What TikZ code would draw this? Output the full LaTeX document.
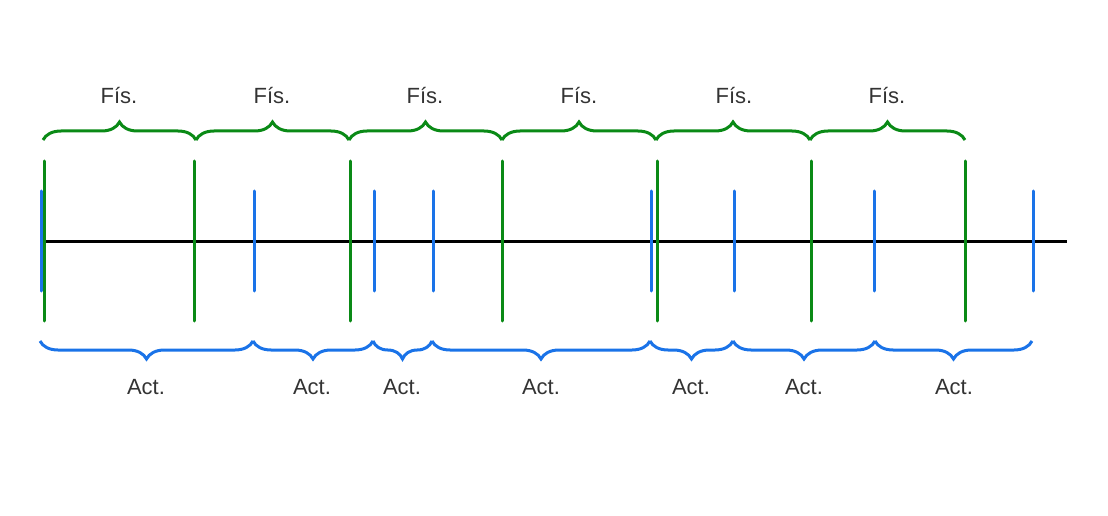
\documentclass[tikz,border=0pt]{standalone}
\usepackage{fontspec}
\setmainfont{Liberation Sans}
\usetikzlibrary{decorations.pathreplacing}
\definecolor{fgreen}{HTML}{0A8A16}
\definecolor{ablue}{HTML}{1A73E8}
\definecolor{txt}{HTML}{333333}
\tikzset{
  axisline/.style={line width=3pt, black},
  gtick/.style={line width=3pt, fgreen, line cap=round},
  btick/.style={line width=3pt, ablue, line cap=round},
  gbrace/.style={line width=3pt, fgreen, decorate, decoration={brace, amplitude=18pt}},
  bbrace/.style={line width=3pt, ablue, decorate, decoration={brace, mirror, amplitude=18pt}},
  lbl/.style={text=txt, font=\fontsize{22}{26}\selectfont, anchor=base, inner sep=0pt},
}
\begin{document}
\begin{tikzpicture}[x=1pt,y=1pt]
\useasboundingbox (0,0) rectangle (1108,515);
% axis
\coordinate (L) at (42,274);
\coordinate (R) at (1067,274);
\draw[axisline] (L) -- (R);
% green ticks
\foreach \x in {44,194,350,502,657,811,965}
  \draw[gtick] (\x,354) -- (\x,194);
% blue ticks
\foreach \x in {41,254,374,433,651,734,874,1033}
  \draw[btick] (\x,324) -- (\x,224);
% green braces (top)
\foreach \a/\b/\m [count=\i] in {43/196/119,196/349/272,349/502/425,502/656/579,656/810/734,810/965/887}{
  \coordinate (g\i a) at (\a,375);
  \coordinate (g\i b) at (\b,375);
  \draw[gbrace] (g\i a) -- (g\i b);
  \node[lbl] (f\i) at (\m,411) {Fís.};
}
% blue braces (bottom)
\foreach \a/\b/\m [count=\i] in {40/253/146,253/373/312,373/432/402,432/650/541,650/733/691,733/875/804,875/1032/954}{
  \coordinate (b\i a) at (\a,174);
  \coordinate (b\i b) at (\b,174);
  \draw[bbrace] (b\i a) -- (b\i b);
  \node[lbl] (a\i) at (\m,121) {Act.};
}
\end{tikzpicture}
\end{document}
